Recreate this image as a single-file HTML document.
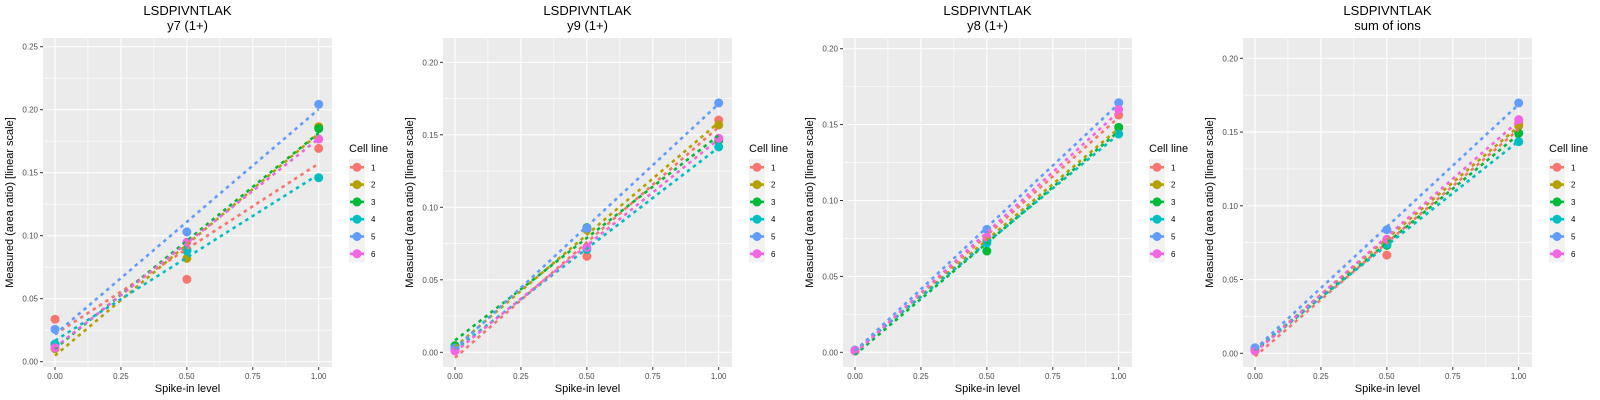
<!DOCTYPE html>
<html><head><meta charset="utf-8"><style>
body{margin:0;background:#fff;}
svg{display:block;font-family:"Liberation Sans",sans-serif;}
</style></head><body>
<svg id="c" width="1600" height="400"></svg>
<script>
const xLevels=[0,0.5,1];
const cellLines=["1","2","3","4","5","6"];
const colors=["#F8766D","#B79F00","#00BA38","#00BFC4","#619CFF","#F564E3"];
const subtitles=["y7 (1+)","y9 (1+)","y8 (1+)","sum of ions"];
// values per panel, per cell line: [x=0, x=0.5, x=1]
const p1Vals=[[0.0337,0.0654,0.1693],[0.0103,0.082,0.1865],[0.0138,0.089,0.185],[0.0140,0.088,0.146],[0.0257,0.103,0.2043],[0.011,0.0948,0.1767]];
const p2Vals=[[0.001,0.0662,0.1602],[0.002,0.0845,0.1568],[0.0046,0.086,0.146],[0.002,0.071,0.1416],[0.003,0.0855,0.172],[0.0009,0.0724,0.1476]];
const p3Vals=[[0.001,0.074,0.1563],[0.001,0.073,0.148],[0.001,0.0667,0.1482],[0.001,0.072,0.1438],[0.0015,0.081,0.1644],[0.001,0.0758,0.160]];
const p4Vals=[[0.002,0.0666,0.156],[0.002,0.077,0.1542],[0.002,0.0732,0.1492],[0.002,0.074,0.1435],[0.0038,0.0838,0.1697],[0.0015,0.0773,0.1584]];
const yTicks1=[0,0.05,0.10,0.15,0.20,0.25];
const yTicks2=[0,0.05,0.10,0.15,0.20];
const xTicks=[0,0.25,0.5,0.75,1];
const xTickLabels=["0.00","0.25","0.50","0.75","1.00"];

const panels=[
 {vals:p1Vals,ticks:yTicks1,y0:361.7,yTop:0.25,yTopPx:46.7},
 {vals:p2Vals,ticks:yTicks2,y0:352.3,yTop:0.20,yTopPx:62.3},
 {vals:p3Vals,ticks:yTicks2,y0:352.3,yTop:0.20,yTopPx:48.7},
 {vals:p4Vals,ticks:yTicks2,y0:353.3,yTop:0.20,yTopPx:58.3}
];
const svg=document.getElementById('c');
const NS="http://www.w3.org/2000/svg";
function mk(tag,attrs,parent,text){const e=document.createElementNS(NS,tag);for(const k in attrs)e.setAttribute(k,attrs[k]);if(text!==undefined)e.textContent=text;parent.appendChild(e);return e;}
const PL=43,PR=332,PT=38,PB=367;
panels.forEach((p,pi)=>{
 const g=mk('g',{transform:`translate(${pi*400},0)`},svg);
 
 
 const sc=(p.y0-p.yTopPx)/p.yTop;
 const X=v=>55+v*(318.7-55);
 const Y=v=>p.y0-v*sc;
 const bg=mk('rect',{x:PL,y:PT,width:PR-PL,height:PB-PT,fill:'#EBEBEB'},g);
 
 
 // minor grid
 const yMin=(p.y0-PB)/sc*-1, yMax=(p.y0-PT)/sc;
 for(let i=0;i<p.ticks.length;i++){const v=p.ticks[i]+0.025; if(Y(v)>PT) mk('line',{x1:PL,x2:PR,y1:Y(v),y2:Y(v),stroke:'#fff','stroke-width':0.55},g);}
 if(Y(-0.025)<PB) mk('line',{x1:PL,x2:PR,y1:Y(-0.025),y2:Y(-0.025),stroke:'#fff','stroke-width':0.55},g);
 [0.125,0.375,0.625,0.875].forEach(v=>mk('line',{x1:X(v),x2:X(v),y1:PT,y2:PB,stroke:'#fff','stroke-width':0.55},g));
 p.ticks.forEach(v=>{
  mk('line',{x1:PL,x2:PR,y1:Y(v),y2:Y(v),stroke:'#fff','stroke-width':1.1},g);
  mk('line',{x1:PL-3,x2:PL,y1:Y(v),y2:Y(v),stroke:'#333','stroke-width':1},g);
  const t=mk('text',{x:PL-5,y:Y(v)+3,'text-anchor':'end','font-size':8,fill:'#4D4D4D'},g,v.toFixed(2));
  
  
 });
 xTicks.forEach((v,i)=>{
  mk('line',{x1:X(v),x2:X(v),y1:PT,y2:PB,stroke:'#fff','stroke-width':1.1},g);
  mk('line',{x1:X(v),x2:X(v),y1:PB,y2:PB+3,stroke:'#333','stroke-width':1},g);
  const t=mk('text',{x:X(v),y:379,'text-anchor':'middle','font-size':8,fill:'#4D4D4D'},g,xTickLabels[i]);
  
  
 });
 // points
 p.vals.forEach((s,si)=>{
  s.forEach((v,xi)=>{
   const c=mk('circle',{cx:X(xLevels[xi]),cy:Y(v),r:4.5,fill:colors[si]},g);
   
   
  });
 });
 // regression lines
 p.vals.forEach((s,si)=>{
  const mx=xLevels.reduce((a,b)=>a+b,0)/xLevels.length;
  const my=s.reduce((a,b)=>a+b,0)/s.length;
  let num=0,den=0;xLevels.forEach((x,i)=>{num+=(x-mx)*(s[i]-my);den+=(x-mx)*(x-mx);});
  const b=num/den,a=my-b*mx;
  const l=mk('line',{x1:X(0),y1:Y(a),x2:X(1),y2:Y(a+b),stroke:colors[si],'stroke-width':2.6,'stroke-dasharray':'3.5,4'},g);
  
  
 });
 const t1=mk('text',{x:187.5,y:15,'text-anchor':'middle','font-size':13,fill:'#000'},g,'LSDPIVNTLAK');
 
 
 const t2=mk('text',{x:187.5,y:30,'text-anchor':'middle','font-size':13,fill:'#000'},g,subtitles[pi]);
 
 
 const xt=mk('text',{x:187.5,y:392,'text-anchor':'middle','font-size':11,fill:'#000'},g,'Spike-in level');
 
 
 const yt=mk('text',{x:0,y:0,transform:`translate(13,${(PT+PB)/2}) rotate(-90)`,'text-anchor':'middle','font-size':11,fill:'#000'},g,'Measured (area ratio) [linear scale]');
 
 
 const lg=mk('g',{},g);
 
 
 const lt=mk('text',{x:349,y:152,'font-size':11,fill:'#000'},lg,'Cell line');
 
 
 cellLines.forEach((n,i)=>{
  const cy=167.3+i*17.3;
  const e=mk('g',{},lg);
  
  
  mk('rect',{x:349,y:cy-8.6,width:16,height:17.3,fill:'#F2F2F2'},e);
  mk('line',{x1:350,x2:364,y1:cy,y2:cy,stroke:colors[i],'stroke-width':2.6},e);
  mk('circle',{cx:357,cy:cy,r:4.5,fill:colors[i]},e);
  mk('text',{x:371,y:cy+3,'font-size':8,fill:'#000'},e,n);
 });
});
</script>
</body></html>
